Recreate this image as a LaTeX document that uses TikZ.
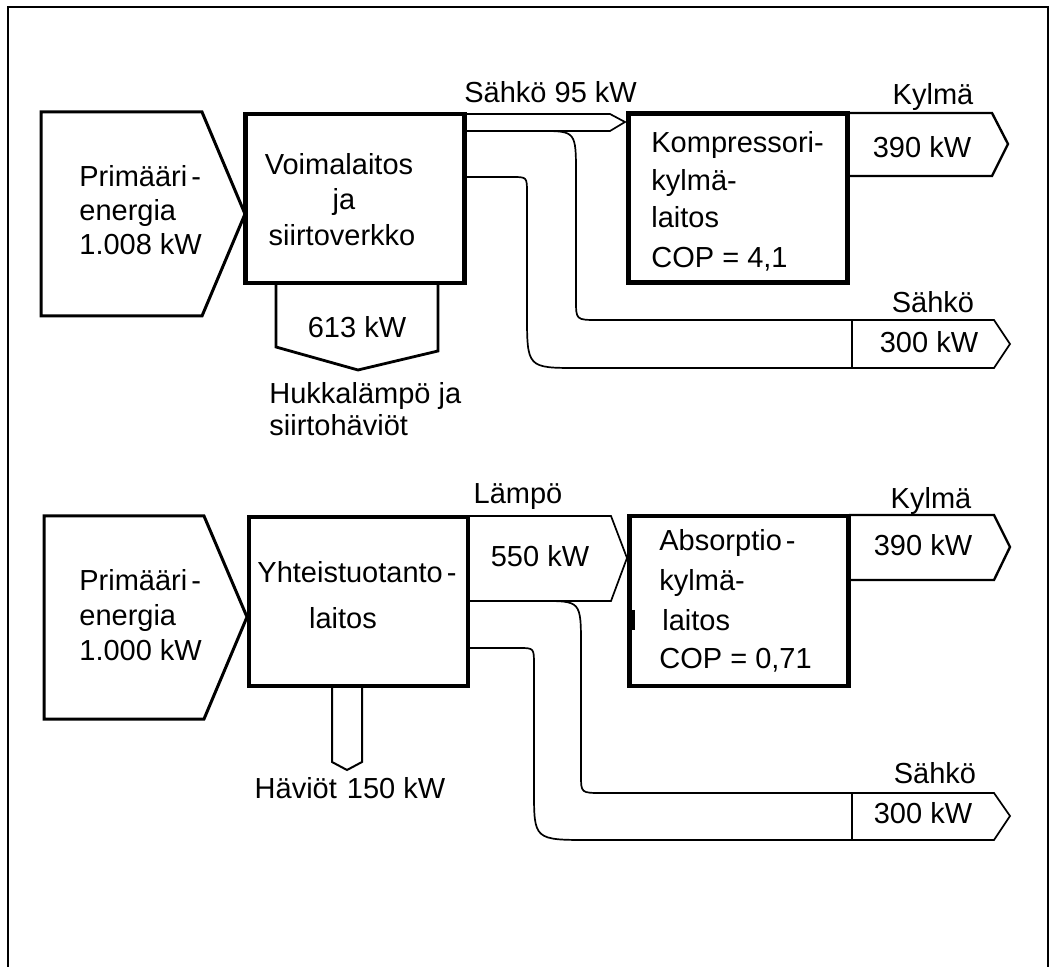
\documentclass[tikz,border=0pt]{standalone}
\usepackage{fontspec}
\setmainfont{Liberation Sans}
\tikzset{
  lbl/.style={inner sep=0pt, text height=10.4pt, text depth=0pt,
    font=\fontsize{14.5}{17}\selectfont},
  plant/.style={draw, line width=2.2pt, minimum width=109.5pt, minimum height=84.5pt, inner sep=0pt},
  inflow/.style={line width=1.5pt, line join=miter},
  band/.style={line width=0.85pt},
  outflow/.style={line width=1.2pt},
}
\begin{document}
\begin{tikzpicture}[x=0.5pt,y=-0.5pt]
		\useasboundingbox (0,0) rectangle (1055,967);
		\draw[line width=1pt](8,967)--(8,7)--(1048,7)--(1048,967);
		
		% sahkon kautta: voimalaitos + kompressori
		\draw[inflow](41,112)--(202,112)--(245,214)--(202,316)--(41,316)--cycle;
		\draw[line width=1.4pt](276,283)--(276,347)--(358,370)--(438,351)--(438,283);
		\node[plant] (voima) at (355,198.5) {};
		
		\draw[band](465,114)--(610,114)--(625,122)--(610,131)--(465,131);
		\draw[band](540,131) .. controls (576,131) .. (576,175)
		--(576,300) .. controls (576,320) .. (598,320)--(852,320);
		\draw[band](465,177)--(512,177) .. controls (527,177) .. (527,193)
		--(527,313) .. controls (527,368) .. (578,368)--(852,368);
		\draw[band](852,320)--(994,320)--(1010,344)--(994,368)--(852,368)--cycle;
		
		\node[plant] (kompr) at (738,198) {};
		\draw[outflow](848,113)--(992,113)--(1008,144)--(992,176)--(848,176);
		
		\node[lbl,anchor=west] (primA1) at (79,176){Primääri\kern2pt-};
		\node[lbl,anchor=west] (primA2) at (79,210){energia};
		\node[lbl,anchor=west] (primA3) at (79,244){1.008 kW};
		\node[lbl] (voimaA) at (339,164){Voimalaitos};
		\node[lbl] (voimaB) at (344,199){ja};
		\node[lbl] (voimaC) at (342,235){siirtoverkko};
		\node[lbl] (hukka) at (357,327){613 kW};
		\node[lbl,anchor=west] (hukkaA) at (269,393){Hukkalämpö ja};
		\node[lbl,anchor=west] (hukkaB) at (269,425){siirtohäviöt};
		\node[lbl,anchor=west] (sahkoA) at (464,92){Sähkö 95 kW};
		\node[lbl,anchor=west] (komprA) at (651,142){Kompressori-};
		\node[lbl,anchor=west] (komprB) at (651,180){kylmä-};
		\node[lbl,anchor=west] (komprC) at (651,217){laitos};
		\node[lbl,anchor=west] (komprD) at (651,257){COP = 4,1};
		\node[lbl] (kylmaA) at (933,94){Kylmä};
		\node[lbl] (kylmaB) at (922,147){390 kW};
		\node[lbl] (jaeA) at (933,302){Sähkö};
		\node[lbl] (jaeB) at (929,342){300 kW};
		
		% yhteistuotanto + absorptio
		\draw[inflow](44,516)--(204,516)--(247,617)--(204,719)--(44,719)--cycle;
		\draw[line width=1pt](332,686)--(332,762)--(347,770)--(362,762)--(362,686);
		\node[plant] (chp) at (358.5,601.5) {};
		
		\draw[band](469,516)--(611,516)--(627,558)--(611,601)--(469,601);
		\draw[band](542,601) .. controls (581,601) .. (581,647)
		--(581,775) .. controls (581,793) .. (602,793)--(852,793);
		\draw[band](469,648)--(519,648) .. controls (534,648) .. (534,665)
		--(534,790) .. controls (534,840) .. (590,840)--(852,840);
		\draw[band](852,793)--(994,793)--(1010,816)--(994,840)--(852,840)--cycle;
		
		\node[plant, minimum height=85pt] (absorp) at (739,601) {};
		\draw[outflow](849,515)--(994,515)--(1010,547)--(994,580)--(849,580);
		\draw[line width=1.5pt](633,610)--(633,630);
		
		\node[lbl,anchor=west] (primB1) at (79,580){Primääri\kern2pt-};
		\node[lbl,anchor=west] (primB2) at (79,615){energia};
		\node[lbl,anchor=west] (primB3) at (79,650){1.000 kW};
		\node[lbl] (chpA) at (357,572){Yhteistuotanto\kern2pt-};
		\node[lbl] (chpB) at (343,618){laitos};
		\node[lbl] (havio) at (350,788){Häviöt\kern5pt 150 kW};
		\node[lbl] (lampoA) at (518,493){Lämpö};
		\node[lbl] (lampoB) at (540,556){550 kW};
		\node[lbl,anchor=west] (absorpA) at (659,540){Absorptio\kern2pt-};
		\node[lbl,anchor=west] (absorpB) at (659,580){kylmä-};
		\node[lbl,anchor=west] (absorpC) at (662,620){laitos};
		\node[lbl,anchor=west] (absorpD) at (659,658){COP = 0,71};
		\node[lbl] (kylmaC) at (931,498){Kylmä};
		\node[lbl] (kylmaD) at (923,545){390 kW};
		\node[lbl] (jaeC) at (935,773){Sähkö};
		\node[lbl] (jaeD) at (923,813){300 kW};
		\end{tikzpicture}
\end{document}
